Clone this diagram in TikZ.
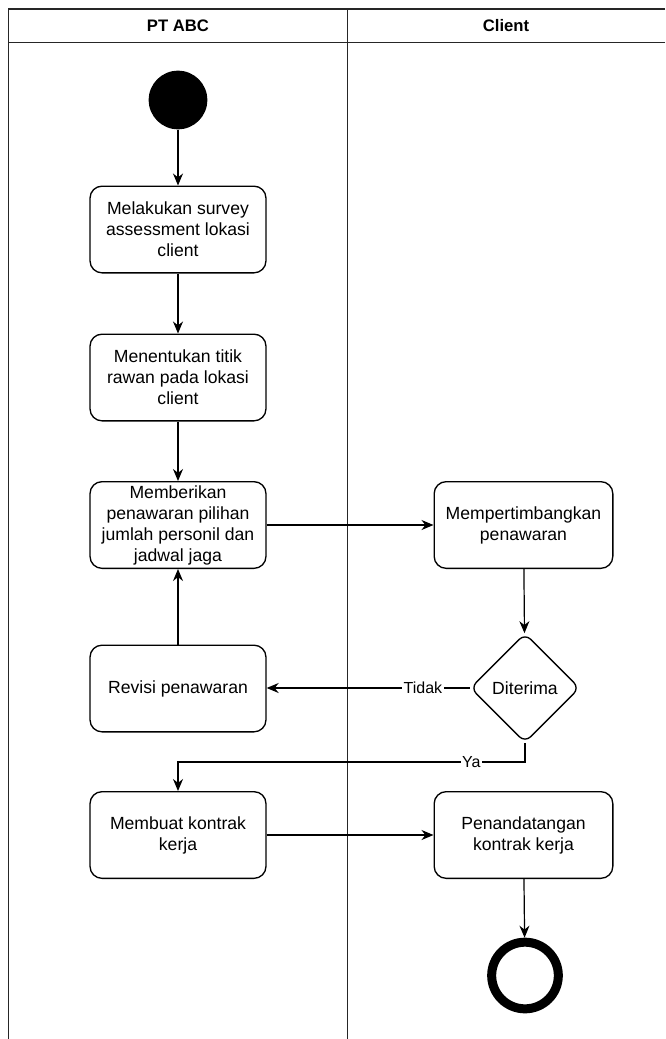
\documentclass[tikz,border=0pt]{standalone}
\usepackage{fontspec}
\setmainfont{Liberation Sans}
\usetikzlibrary{shapes.geometric,arrows.meta}
\begin{document}
\begin{tikzpicture}[x=0.75pt,y=-0.75pt,
  lane/.style={line width=1.2pt,draw=black!85},
  act/.style={draw, line width=1pt, rounded corners=9pt, minimum width=132pt, minimum height=65pt, align=center, inner sep=2pt,
    font=\fontsize{13.2pt}{15.75pt}\selectfont},
  dec/.style={draw, diamond, line width=1pt, rounded corners=6pt, minimum width=82pt, minimum height=82pt, inner sep=0pt,
    font=\fontsize{13.2pt}{15.75pt}\selectfont},
  hdr/.style={font=\fontsize{12.5pt}{15pt}\selectfont\bfseries},
  arr/.style={-{Stealth[length=9pt,width=7.5pt]}, line width=0.9pt},
  lbl/.style={fill=white, inner sep=1pt, font=\fontsize{12pt}{14pt}\selectfont}
]
\useasboundingbox (0,0) rectangle (665,1039);
% swimlanes
\draw[lane] (665,9) -- (8.5,9) -- (8.5,1039);
\draw[lane] (665,42.5) -- (8.5,42.5);
\draw[lane] (347.5,9) -- (347.5,1039);
\node[hdr] (h1) at (178,26) {PT ABC};
\node[hdr] (h2) at (506,26) {Client};
% nodes
\node[circle, fill=black, minimum size=44pt, inner sep=0pt] (start) at (178,100) {};
\node[act] (a1) at (178,229.5) {Melakukan survey\\assessment lokasi\\client};
\node[act] (a2) at (178,377.5) {Menentukan titik\\rawan pada lokasi\\client};
\node[act] (a3) at (178,525) {Memberikan\\penawaran pilihan\\jumlah personil dan\\jadwal jaga};
\node[act] (a4) at (178,688.5) {Revisi penawaran};
\node[act] (a5) at (178,835) {Membuat kontrak\\kerja};
\node[act, minimum width=134pt] (c1) at (523.5,525) {Mempertimbangkan\\penawaran};
\node[dec] (d1) at (525,688) {Diterima};
\node[act, minimum width=134pt] (c2) at (523.5,835) {Penandatangan\\kontrak kerja};
\node[circle, draw, line width=6.75pt, minimum size=50pt, inner sep=0pt] (end) at (525,975.5) {};
\coordinate (yb) at (525,762);
\coordinate (yl) at (178,762);
% connectors
\draw[arr] (start) -- (a1);
\draw[arr] (a1) -- (a2);
\draw[arr] (a2) -- (a3);
\draw[arr] (a3.east) -- (a3.east -| c1.west);
\draw[arr] (c1) -- (d1);
\draw[arr] (d1.west) -- node[lbl, pos=0.23] {Tidak} (d1.west -| a4.east);
\draw[arr] (a4) -- (a3);
\draw[arr] (d1.south) -- (yb) -- node[lbl, pos=0.155] {Ya} (yl) -- (a5.north);
\draw[arr] (a5.east) -- (a5.east -| c2.west);
\draw[arr] (c2) -- (end);
\end{tikzpicture}
\end{document}
